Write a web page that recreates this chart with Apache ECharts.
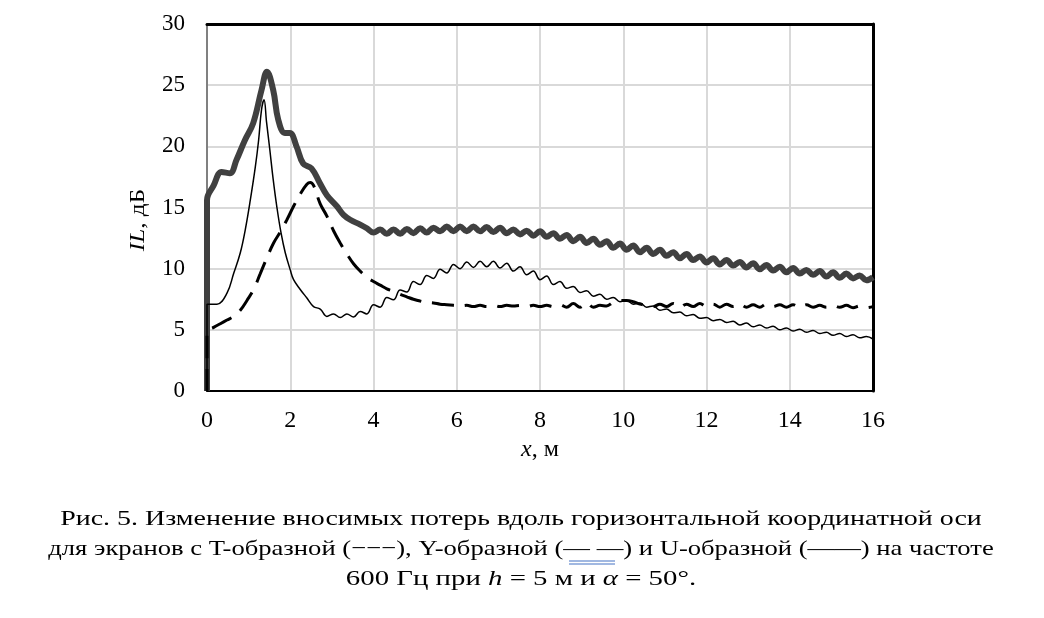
<!DOCTYPE html>
<html>
<head>
<meta charset="utf-8">
<script src="https://cdn.jsdelivr.net/npm/echarts@6/dist/echarts.min.js"></script>
<style>
  html, body { margin: 0; padding: 0; background: #fff; }
  #chart { width: 1044px; height: 618px; }
</style>
</head>
<body>
<div id="chart"></div>
<script>
// общая сетка по x для "хвостов" кривых (от 4 м до 16 м)
var tailX = [4.00, 4.16, 4.32, 4.48, 4.64, 4.80, 4.96, 5.12, 5.28, 5.44, 5.60, 5.76, 5.92, 6.08, 6.24, 6.40,
    6.56, 6.72, 6.88, 7.04, 7.20, 7.36, 7.52, 7.68, 7.84, 8.00, 8.16, 8.32, 8.48, 8.64, 8.80, 8.96,
    9.12, 9.28, 9.44, 9.60, 9.76, 9.92, 10.08, 10.24, 10.40, 10.56, 10.72, 10.88, 11.04, 11.20, 11.36, 11.52,
    11.68, 11.84, 12.00, 12.16, 12.32, 12.48, 12.64, 12.80, 12.96, 13.12, 13.28, 13.44, 13.60, 13.76, 13.92, 14.08,
    14.24, 14.40, 14.56, 14.72, 14.88, 15.04, 15.20, 15.36, 15.52, 15.68, 15.84, 16.00];

// U-образный экран (толстая серая)
var uHeadX = [0, 0, 0.16, 0.35, 0.55, 0.71, 0.91, 1.11, 1.31, 1.44, 1.59, 1.71, 1.87, 1.99, 2.15, 2.31, 2.51, 2.71, 2.88, 3.12, 3.28, 3.44, 3.68, 3.84];
var uHeadY = [0, 15.6, 16.8, 17.9, 17.8, 18.9, 20.5, 21.9, 24.6, 26.1, 24.6, 22.2, 21.1, 21.1, 20.0, 18.6, 18.2, 17.0, 16.0, 15.1, 14.4, 14.0, 13.6, 13.3];
var uTailY = [12.95, 13.2, 12.85, 13.2, 12.85, 13.25, 12.9, 13.3, 12.95, 13.35, 13.05, 13.45, 13.05, 13.45, 13.05, 13.45,
    13.05, 13.4, 13.0, 13.35, 12.9, 13.2, 12.8, 13.1, 12.7, 13.05, 12.6, 12.9, 12.45, 12.75, 12.25, 12.6,
    12.1, 12.45, 11.95, 12.25, 11.7, 12.05, 11.55, 11.9, 11.35, 11.7, 11.2, 11.55, 11.05, 11.35, 10.85, 11.2,
    10.7, 11.0, 10.5, 10.85, 10.35, 10.7, 10.25, 10.55, 10.1, 10.45, 9.95, 10.3, 9.85, 10.15, 9.7, 10.05,
    9.6, 9.9, 9.5, 9.8, 9.35, 9.7, 9.25, 9.6, 9.2, 9.45, 9.05, 9.3];

// Y-образный экран (штриховая)
var yHeadX = [0, 0, 0.16, 0.32, 0.48, 0.64, 0.8, 0.96, 1.12, 1.28, 1.44, 1.6, 1.76, 1.92, 2.08, 2.24, 2.4, 2.48, 2.56, 2.72, 2.88, 3.04, 3.2, 3.36, 3.52, 3.68, 3.84];
var yHeadY = [0, 4.85, 5.2, 5.5, 5.8, 6.1, 6.6, 7.4, 8.3, 9.6, 10.9, 12.1, 13.0, 14.0, 15.1, 16.1, 16.9, 17.05, 16.8, 15.3, 14.3, 13.1, 12.1, 11.2, 10.4, 9.8, 9.3];
var yTailY = [8.95, 8.65, 8.35, 8.15, 7.9, 7.7, 7.5, 7.35, 7.25, 7.2, 7.1, 7.05, 7.0, 6.95, 7.0, 6.9,
    7.0, 6.9, 7.0, 6.9, 7.0, 6.95, 7.0, 6.9, 7.0, 6.9, 7.0, 6.9, 7.05, 6.85, 7.15, 6.85,
    7.2, 6.85, 7.0, 6.95, 7.25, 7.4, 7.4, 7.3, 7.1, 7.0, 6.9, 7.1, 6.9, 7.15, 6.85, 7.1,
    6.9, 7.15, 6.9, 7.1, 6.85, 7.1, 6.9, 7.1, 6.85, 7.05, 6.85, 7.1, 6.9, 7.05, 6.85, 7.05,
    6.85, 7.05, 6.85, 7.0, 6.85, 7.0, 6.85, 7.0, 6.8, 6.95, 6.8, 6.9];

// T-образный экран (тонкая)
var tHeadX = [0, 0, 0.24, 0.48, 0.64, 0.8, 0.92, 1.04, 1.16, 1.24, 1.31, 1.37, 1.43, 1.51, 1.59, 1.68, 1.78, 1.88, 2.0, 2.08, 2.24, 2.4, 2.56, 2.72, 2.88, 3.04, 3.2, 3.36, 3.52, 3.68, 3.84];
var tHeadY = [0, 7.1, 7.1, 8.0, 9.6, 11.3, 13.2, 15.6, 18.3, 20.5, 23.0, 23.8, 22.0, 19.7, 17.3, 15.0, 12.9, 11.3, 9.9, 9.1, 8.3, 7.6, 6.9, 6.7, 6.1, 6.3, 6.0, 6.3, 6.05, 6.5, 6.3];
var tTailY = [7.05, 6.85, 7.65, 7.45, 8.25, 8.1, 8.95, 8.7, 9.45, 9.2, 9.95, 9.65, 10.35, 10.0, 10.55, 10.1,
    10.6, 10.15, 10.6, 10.05, 10.45, 9.8, 10.15, 9.5, 9.8, 9.1, 9.4, 8.7, 8.95, 8.4, 8.55, 8.05,
    8.2, 7.75, 7.9, 7.5, 7.65, 7.3, 7.4, 7.1, 7.2, 6.85, 6.95, 6.6, 6.7, 6.4, 6.45, 6.15,
    6.25, 5.95, 6.0, 5.75, 5.85, 5.6, 5.7, 5.4, 5.55, 5.25, 5.4, 5.15, 5.3, 5.0, 5.15, 4.9,
    5.05, 4.8, 4.95, 4.7, 4.8, 4.55, 4.7, 4.45, 4.6, 4.35, 4.45, 4.25];

var xTicks = { min: 0, max: 16, interval: 2 };
var yTicks = { min: 0, max: 30, interval: 5 };

var captionLines = [
    'Рис. 5. Изменение вносимых потерь вдоль горизонтальной координатной оси',
    'для экранов с T-образной (−−−), Y-образной (— —) и U-образной (——) на частоте',
    '600 Гц при {i|h} = 5 м и {i|α} = 50°.'
];

function pairs(hx, hy, tx, ty) {
    var out = [];
    for (var i = 0; i < hx.length; i++) out.push([hx[i], hy[i]]);
    for (var j = 0; j < tx.length; j++) out.push([tx[j], ty[j]]);
    return out;
}

var FONT = '"Liberation Serif", "Times New Roman", serif';

var chart = echarts.init(document.getElementById('chart'), null, { renderer: 'canvas' });

// подпись рисунка: шрифт в оригинале шире, поэтому немного растягиваем по x
function captionText(y, text, sx) {
    return {
        type: 'text', x: 521, y: y, scaleX: sx,
        style: {
            text: text, font: '22px ' + FONT, fill: '#000', align: 'center', verticalAlign: 'middle',
            rich: { i: { fontFamily: FONT, fontStyle: 'italic', fontSize: 22, fill: '#000' } }
        }
    };
}

var option = {
    animation: false,
    backgroundColor: '#fff',
    textStyle: { fontFamily: FONT, color: '#000' },
    grid: { left: 207, right: 171, top: 24, bottom: 227 },
    xAxis: [
        {
            type: 'value', position: 'bottom',
            min: xTicks.min, max: xTicks.max, interval: xTicks.interval,
            axisLine: { show: true, onZero: false, lineStyle: { color: '#000', width: 2 } },
            axisTick: { show: false },
            axisLabel: { fontFamily: FONT, fontSize: 24, color: '#000', margin: 18 },
            splitLine: { show: true, lineStyle: { color: '#d9d9d9', width: 2 } },
            name: '{i|x}, м', nameLocation: 'middle', nameGap: 43,
            nameTextStyle: { fontFamily: FONT, fontSize: 24, color: '#000',
                rich: { i: { fontFamily: FONT, fontStyle: 'italic', fontSize: 24, color: '#000' } } }
        },
        {
            type: 'value', position: 'top',
            min: xTicks.min, max: xTicks.max, interval: xTicks.interval,
            axisLine: { show: true, onZero: false, lineStyle: { color: '#000', width: 3 } },
            axisTick: { show: false }, axisLabel: { show: false }, splitLine: { show: false }
        }
    ],
    yAxis: [
        {
            type: 'value', position: 'left',
            min: yTicks.min, max: yTicks.max, interval: yTicks.interval,
            axisLine: { show: true, onZero: false, lineStyle: { color: '#808080', width: 2 } },
            axisTick: { show: false },
            axisLabel: { fontFamily: FONT, fontSize: 23, color: '#000', margin: 22 },
            splitLine: { show: true, lineStyle: { color: '#d9d9d9', width: 2 } }
        },
        {
            type: 'value', position: 'right',
            min: yTicks.min, max: yTicks.max, interval: yTicks.interval,
            axisLine: { show: true, onZero: false, lineStyle: { color: '#000', width: 3 } },
            axisTick: { show: false }, axisLabel: { show: false }, splitLine: { show: false }
        }
    ],
    series: [
        {
            name: 'U', type: 'line', showSymbol: false, smooth: 0.4,
            data: pairs(uHeadX, uHeadY, tailX, uTailY),
            lineStyle: { color: '#404040', width: 6 }, z: 2
        },
        {
            name: 'Y', type: 'line', showSymbol: false, smooth: 0.4,
            data: pairs(yHeadX, yHeadY, tailX, yTailY),
            lineStyle: { color: '#000', width: 3, type: [22, 11] }, z: 3
        },
        {
            name: 'T', type: 'line', showSymbol: false, smooth: 0.4,
            data: pairs(tHeadX, tHeadY, tailX, tTailY),
            lineStyle: { color: '#000', width: 1.5 }, z: 4
        }
    ],
    graphic: [
        {
            type: 'text', x: 138, y: 220, rotation: Math.PI / 2, scaleX: 1.2,
            style: {
                text: '{i|IL}, дБ', font: '21px ' + FONT, fill: '#000',
                align: 'center', verticalAlign: 'middle',
                rich: { i: { fontFamily: FONT, fontStyle: 'italic', fontSize: 21, fill: '#000' } }
            }
        },
        captionText(519, captionLines[0], 1.27),
        captionText(549, captionLines[1], 1.21),
        captionText(579, captionLines[2], 1.31),
        // синее двойное подчёркивание под "(— —)", как в исходнике
        { type: 'line', shape: { x1: 569, y1: 561, x2: 615, y2: 561 }, style: { stroke: '#4472c4', lineWidth: 1.2 } },
        { type: 'line', shape: { x1: 569, y1: 564, x2: 615, y2: 564 }, style: { stroke: '#4472c4', lineWidth: 1.2 } }
    ]
};

chart.setOption(option);
</script>
</body>
</html>
